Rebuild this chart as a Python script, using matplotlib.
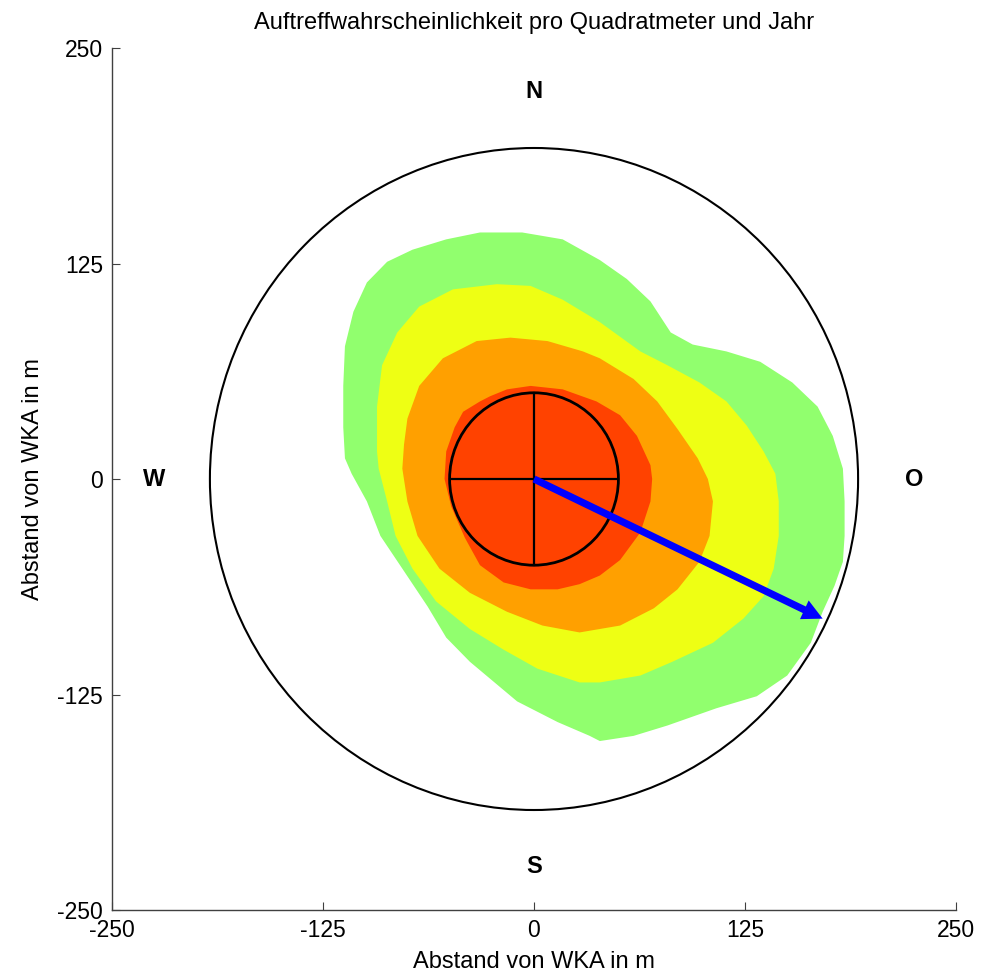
"""
Auftreffwahrscheinlichkeit rund um die WKA
"""

import matplotlib
matplotlib.use("Agg")
import matplotlib.pyplot as plt
from matplotlib.patches import Circle

plt.rcParams['font.family'] = ['Liberation Sans', 'DejaVu Sans']
plt.rcParams['axes.unicode_minus'] = False

# Konturen (Abstand in m), von innen nach aussen
red_x = [-16, -2, 17, 37, 51, 61, 69, 70, 69, 63, 51, 39, 27, 14, -2, -18, -32, -41, -49,
         -53, -52, -47, -42, -32, -26]
red_y = [52, 54, 52, 45, 37, 25, 8, 0, -13, -31, -47, -56, -61, -64, -64, -60, -50, -34, -16,
         0, 16, 30, 39, 45, 48]

orange_x = [-14, 8, 29, 39, 59, 73, 85, 97, 103, 106, 104, 98, 85, 71, 51, 27, 5, -16, -38,
            -56, -69, -75, -78, -77, -75, -68, -54, -34]
orange_y = [82, 80, 74, 70, 58, 45, 29, 12, 0, -13, -33, -48, -64, -75, -85, -89, -85, -77, -66,
            -52, -33, -13, 6, 20, 35, 54, 70, 80]

yellow_x = [-22, -2, 17, 39, 63, 79, 98, 114, 126, 136, 143, 145, 145, 142, 136, 124, 106, 82,
            63, 39, 27, 2, -18, -38, -58, -72, -82, -87, -92, -93, -93, -90, -81, -68, -48]
yellow_y = [113, 112, 104, 91, 74, 66, 56, 45, 31, 16, 3, -13, -33, -52, -68, -81, -95, -106,
            -114, -118, -118, -110, -99, -87, -71, -52, -33, -13, 6, 16, 42, 66, 85, 100, 110]

green_x = [-32, -7, 17, 39, 55, 69, 81, 94, 114, 134, 153, 168, 177, 183, 184, 184, 183, 178,
           171, 164, 150, 132, 108, 79, 59, 39, 33, 14, -10, -38, -52, -63, -78, -91, -99,
           -108, -112, -113, -113, -112, -107, -99, -87, -72, -52]
green_y = [143, 143, 139, 127, 116, 103, 85, 78, 74, 68, 56, 42, 25, 6, -13, -33, -48, -62,
           -77, -95, -114, -126, -133, -143, -149, -152, -149, -141, -129, -106, -92, -74, -52,
           -33, -13, 3, 12, 30, 54, 77, 97, 114, 126, 133, 139]

outer_radius = 192
rotor_radius = 50
arrow_end = [171, -81]

compass_labels = ['N', 'O', 'S', 'W']
compass_x = [0, 225, 0, -225]
compass_y = [225, 0, -225, 0]

ticks = [-250, -125, 0, 125, 250]

fig = plt.figure(figsize=(9.92, 9.74), dpi=100)
ax = fig.add_axes([112 / 992, 1 - 910 / 974, 844 / 992, 862 / 974])

ax.fill(green_x, green_y, color='#91ff6e', lw=0)
ax.fill(yellow_x, yellow_y, color='#eeff14', lw=0)
ax.fill(orange_x, orange_y, color='#ffa000', lw=0)
ax.fill(red_x, red_y, color='#ff4200', lw=0)

ax.add_patch(Circle((0, 0), outer_radius, fill=False, ec='black', lw=1.5))
ax.add_patch(Circle((0, 0), rotor_radius, fill=False, ec='black', lw=2.0, zorder=3))
ax.plot([-rotor_radius, rotor_radius], [0, 0], color='black', lw=1.6, zorder=3)
ax.plot([0, 0], [-rotor_radius, rotor_radius], color='black', lw=1.6, zorder=3)

ax.arrow(0, 0, arrow_end[0], arrow_end[1], width=4.2, head_width=12, head_length=12,
         length_includes_head=True, color='blue', lw=0, zorder=4)

for lab, x, y in zip(compass_labels, compass_x, compass_y):
    ax.text(x, y, lab, ha='center', va='center', fontsize=17, fontweight='bold')

ax.set_xlim(-250, 250)
ax.set_ylim(-250, 250)
ax.set_xticks(ticks)
ax.set_yticks(ticks)
ax.tick_params(direction='in', length=6, width=0.8, color='#404040', labelsize=16.5, pad=6.5)

for side in ['top', 'right']:
    ax.spines[side].set_visible(False)
for side in ['left', 'bottom']:
    ax.spines[side].set_color('#404040')
    ax.spines[side].set_linewidth(1.0)

ax.set_title('Auftreffwahrscheinlichkeit pro Quadratmeter und Jahr', fontsize=17, pad=13.5)
ax.set_xlabel('Abstand von WKA in m', fontsize=17)
ax.set_ylabel('Abstand von WKA in m', fontsize=17)
ax.xaxis.set_label_coords(0.5, -0.047)
ax.yaxis.set_label_coords(-0.08, 0.5)

plt.savefig('out.png', dpi=100)
